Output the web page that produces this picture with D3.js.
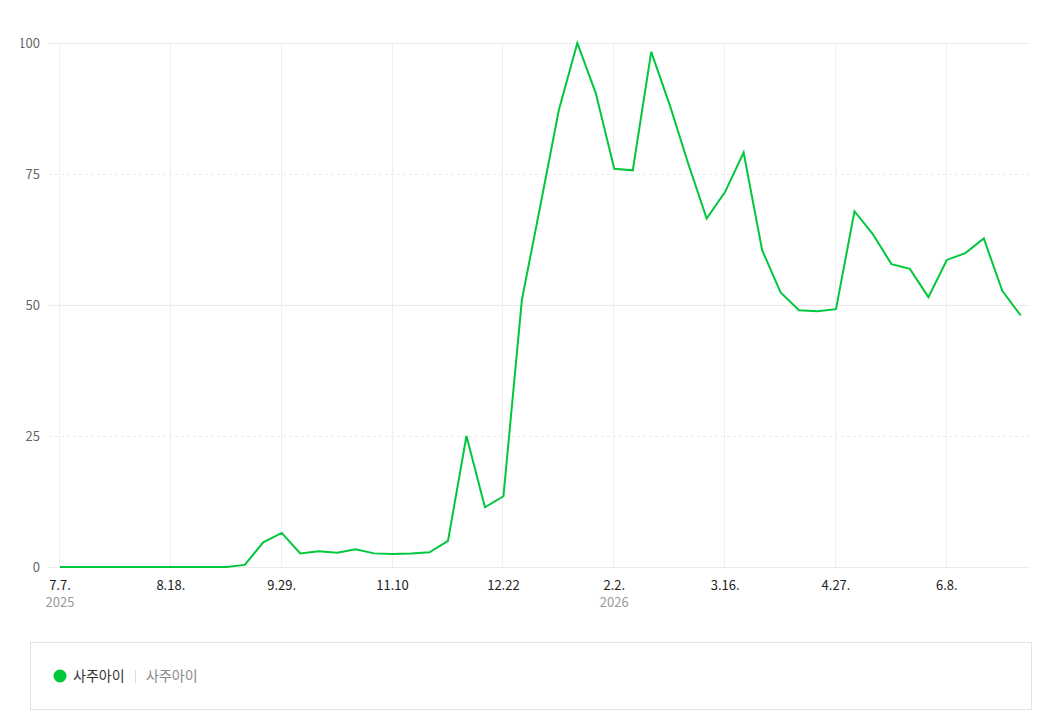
<!DOCTYPE html>
<html>
<head>
<meta charset="utf-8">
<script src="https://cdn.jsdelivr.net/npm/d3@7"></script>
<style>
  body { margin: 0; background: #fff; font-family: "Noto Sans CJK KR", "Noto Sans", sans-serif; }
</style>
</head>
<body>
<div id="chart"></div>
<script>
// weekly values, starting 2025-07-07
var startDate = new Date(2025, 6, 7);
var values = [0, 0, 0, 0, 0, 0, 0, 0, 0, 0,
  0.4, 4.7, 6.5, 2.6, 3.0, 2.7, 3.4, 2.6, 2.5, 2.6,
  2.8, 5.0, 25.0, 11.4, 13.5, 51.0, 69.0, 87.2, 100, 90.4,
  76.0, 75.7, 98.3, 88.2, 77.0, 66.5, 71.6, 79.1, 60.5, 52.4,
  49.0, 48.8, 49.2, 67.9, 63.5, 57.8, 56.9, 51.5, 58.6, 59.9,
  62.7, 52.7, 48.0];
var tickWeeks = [0, 6, 12, 18, 24, 30, 36, 42, 48];
var tickLabels = ["7.7.", "8.18.", "9.29.", "11.10", "12.22", "2.2.", "3.16.", "4.27.", "6.8."];
var yearLabels = ["2025", "", "", "", "", "2026", "", "", ""];
var yTicks = [0, 25, 50, 75, 100];
var seriesName = "사주아이";

var width = 1052, height = 715;
var plotLeft = 60, plotRight = 1030, plotTop = 43, plotBottom = 567;
var week = 7 * 24 * 3600 * 1000;

var dates = values.map(function(v, i) { return new Date(startDate.getTime() + i * week); });

var xScale = d3.scaleTime()
  .domain([startDate, new Date(startDate.getTime() + 52.5 * week)])
  .range([plotLeft, plotRight]);

var yScale = d3.scaleLinear().domain([0, 100]).range([plotBottom, plotTop]);

var svg = d3.select("#chart").append("svg")
  .attr("width", width).attr("height", height);

svg.append("defs").append("clipPath").attr("id", "yclip")
  .append("rect").attr("x", 21).attr("y", 0).attr("width", 40).attr("height", height);

// horizontal grid
svg.append("g").selectAll("line")
  .data(yTicks).enter().append("line")
  .attr("x1", 49).attr("x2", plotRight)
  .attr("y1", function(d) { return yScale(d) + 0.5; })
  .attr("y2", function(d) { return yScale(d) + 0.5; })
  .attr("stroke", "#ebebeb")
  .attr("stroke-width", 1)
  .attr("stroke-dasharray", function(d) { return d % 50 === 0 ? null : "3,3"; });

// vertical grid
var tickDates = tickWeeks.map(function(w) { return dates[w]; });
svg.append("g").selectAll("line")
  .data(tickDates).enter().append("line")
  .attr("x1", function(d) { return Math.round(xScale(d)) - 0.5; })
  .attr("x2", function(d) { return Math.round(xScale(d)) - 0.5; })
  .attr("y1", plotTop).attr("y2", plotBottom)
  .attr("stroke", "#efefef");

// y labels
svg.append("g").attr("clip-path", "url(#yclip)").selectAll("text")
  .data(yTicks).enter().append("text")
  .attr("x", 40)
  .attr("y", function(d) { return yScale(d); })
  .attr("dy", "0.35em")
  .attr("text-anchor", "end")
  .attr("font-size", 13)
  .attr("fill", "#666")
  .text(function(d) { return d; });

// x labels
var xg = svg.append("g");
xg.selectAll("text.md")
  .data(tickDates).enter().append("text")
  .attr("class", "md")
  .attr("x", function(d) { return xScale(d); })
  .attr("y", 590)
  .attr("text-anchor", "middle")
  .attr("font-size", 13)
  .attr("fill", "#222")
  .text(function(d, i) { return tickLabels[i]; });
xg.selectAll("text.yr")
  .data(tickDates).enter().append("text")
  .attr("class", "yr")
  .attr("x", function(d) { return xScale(d); })
  .attr("y", 607)
  .attr("text-anchor", "middle")
  .attr("font-size", 13)
  .attr("fill", "#999")
  .text(function(d, i) { return yearLabels[i]; });

// line
var line = d3.line()
  .x(function(d, i) { return xScale(dates[i]); })
  .y(function(d) { return yScale(d); });

svg.append("path")
  .datum(values)
  .attr("d", line)
  .attr("fill", "none")
  .attr("stroke", "#00c73c")
  .attr("stroke-width", 2)
  .attr("stroke-linejoin", "miter");

// legend
var lg = svg.append("g");
lg.append("rect")
  .attr("x", 30.5).attr("y", 642.5).attr("width", 1001).attr("height", 67)
  .attr("fill", "none").attr("stroke", "#e2e2e2");
lg.append("circle").attr("cx", 60).attr("cy", 676).attr("r", 6.5).attr("fill", "#00c73c");
lg.append("text").attr("x", 73).attr("y", 681).attr("font-size", 14).attr("fill", "#333").text(seriesName);
lg.append("line").attr("x1", 135.5).attr("x2", 135.5).attr("y1", 670).attr("y2", 683).attr("stroke", "#ddd");
lg.append("text").attr("x", 146).attr("y", 681).attr("font-size", 14).attr("fill", "#888").text(seriesName);
</script>
</body>
</html>
